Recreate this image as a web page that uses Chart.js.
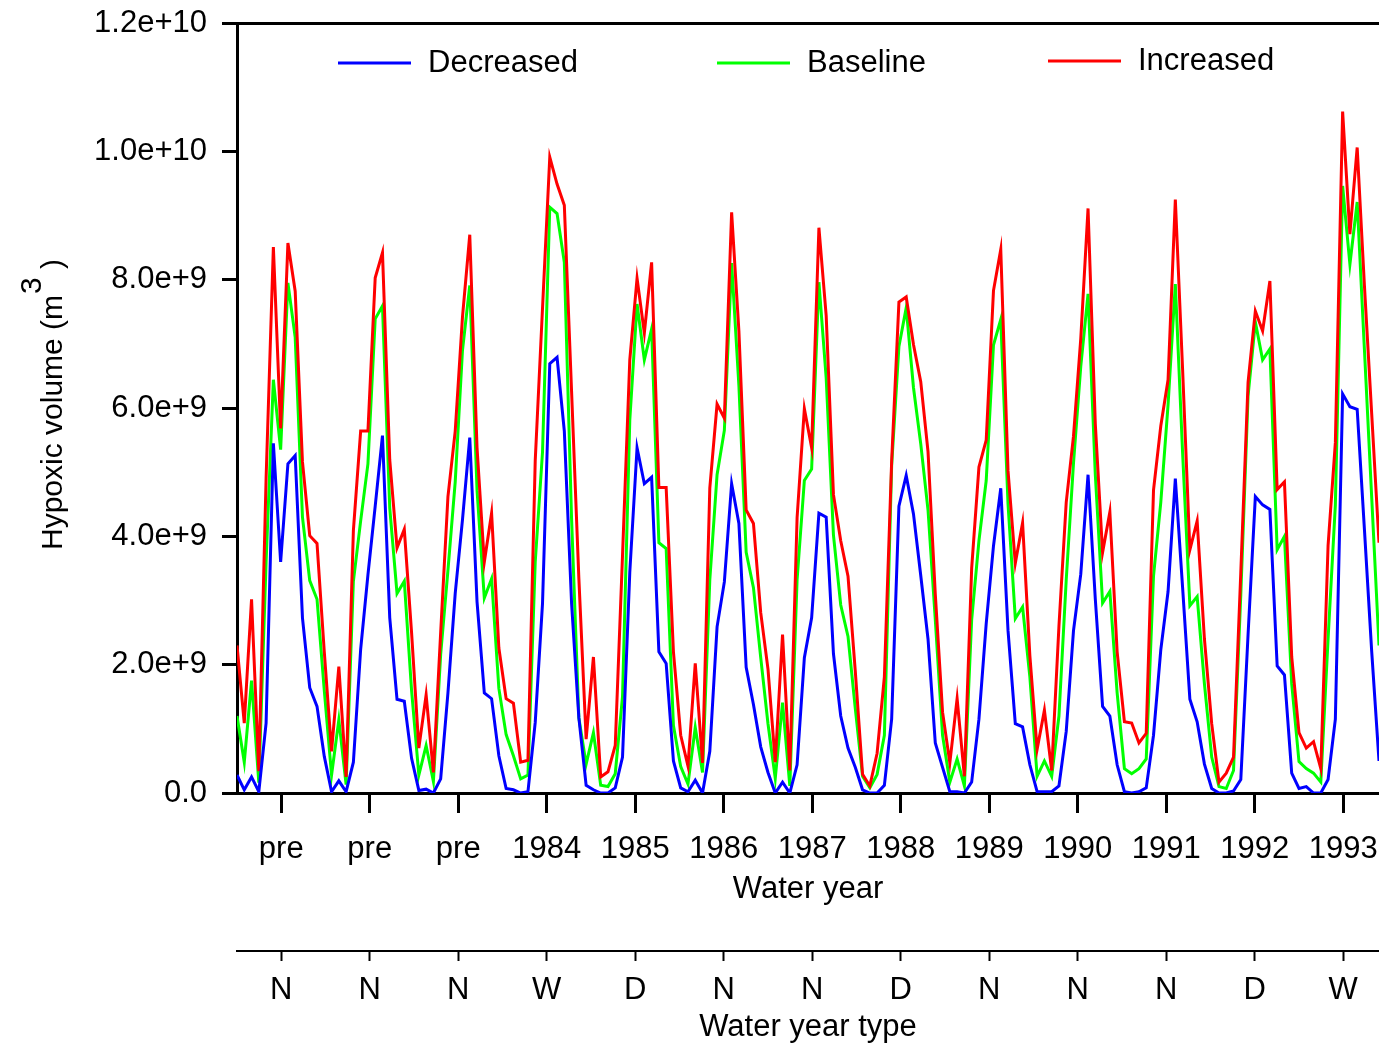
<!DOCTYPE html>
<html>
<head>
<meta charset="utf-8">
<script src="https://cdn.jsdelivr.net/npm/chart.js@4/dist/chart.umd.min.js"></script>
<style>
  html, body { margin: 0; padding: 0; background: #fff; }
  canvas { display: block; }
</style>
</head>
<body>
<canvas id="hypoxiaChart" width="1379" height="1046"></canvas>
<script>
// Hypoxic volume, in units of 1e9 m3, one value every 30 days from the start of the record
const decreased = [
  0.28, 0.05, 0.25, 0.02, 1.09, 5.45, 3.60, 5.13, 5.26, 2.73, 1.64, 1.35, 0.57, 0.02, 0.19, 0.02,
  0.48, 2.24, 3.40, 4.47, 5.57, 2.73, 1.46, 1.43, 0.54, 0.04, 0.06, 0.00, 0.22, 1.56, 3.11, 4.26,
  5.54, 2.98, 1.56, 1.47, 0.58, 0.07, 0.05, 0.00, 0.02, 1.10, 2.95, 6.69, 6.79, 5.64, 2.95, 1.17,
  0.12, 0.05, 0.00, 0.00, 0.08, 0.56, 3.44, 5.38, 4.82, 4.92, 2.20, 2.02, 0.50, 0.08, 0.02, 0.20,
  0.00, 0.65, 2.59, 3.29, 4.82, 4.20, 1.96, 1.38, 0.72, 0.32, 0.00, 0.17, 0.00, 0.44, 2.11, 2.73,
  4.36, 4.30, 2.17, 1.20, 0.70, 0.40, 0.05, 0.00, 0.00, 0.12, 1.15, 4.47, 4.95, 4.35, 3.39, 2.40,
  0.78, 0.40, 0.02, 0.02, 0.00, 0.17, 1.15, 2.64, 3.85, 4.75, 2.53, 1.08, 1.03, 0.44, 0.02, 0.02,
  0.02, 0.11, 0.96, 2.53, 3.41, 4.96, 3.02, 1.35, 1.20, 0.44, 0.02, 0.00, 0.02, 0.08, 0.90, 2.23,
  3.14, 4.90, 3.20, 1.46, 1.11, 0.45, 0.07, 0.00, 0.00, 0.03, 0.21, 2.47, 4.62, 4.49, 4.42, 1.98,
  1.84, 0.31, 0.07, 0.10, 0.00, 0.00, 0.21, 1.15, 6.22, 6.02, 5.98, 4.10, 2.20, 0.50
];
const baseline = [
  1.20, 0.48, 1.75, 0.16, 3.60, 6.44, 5.35, 7.95, 7.10, 4.30, 3.31, 3.02, 1.60, 0.28, 1.14, 0.13,
  3.30, 4.24, 5.13, 7.39, 7.59, 4.44, 3.11, 3.30, 1.60, 0.28, 0.74, 0.18, 2.16, 3.47, 4.85, 6.90,
  7.91, 4.72, 3.04, 3.34, 1.63, 0.91, 0.58, 0.22, 0.28, 3.60, 5.31, 9.13, 9.03, 8.27, 4.26, 1.17,
  0.45, 0.94, 0.12, 0.10, 0.30, 1.50, 5.81, 7.62, 6.75, 7.23, 3.90, 3.81, 1.05, 0.41, 0.14, 1.02,
  0.32, 3.32, 4.96, 5.65, 8.26, 6.35, 3.75, 3.20, 2.11, 1.08, 0.23, 1.41, 0.11, 3.32, 4.87, 5.05,
  7.96, 6.47, 4.02, 2.93, 2.44, 1.32, 0.26, 0.08, 0.29, 0.90, 5.10, 6.96, 7.56, 6.32, 5.44, 4.41,
  2.70, 0.90, 0.17, 0.53, 0.11, 2.70, 3.93, 4.87, 6.98, 7.38, 4.50, 2.72, 2.90, 1.81, 0.26, 0.50,
  0.26, 1.20, 3.32, 5.14, 6.65, 7.78, 4.96, 2.96, 3.14, 1.56, 0.38, 0.30, 0.38, 0.53, 3.38, 4.53,
  6.05, 7.93, 5.30, 2.92, 3.06, 1.70, 0.56, 0.10, 0.07, 0.35, 3.09, 6.19, 7.34, 6.75, 6.92, 3.79,
  4.00, 1.70, 0.49, 0.38, 0.31, 0.17, 2.40, 4.49, 9.46, 8.24, 9.21, 6.90, 4.60, 2.30
];
const increased = [
  2.30, 1.09, 3.02, 0.34, 4.90, 8.51, 5.68, 8.57, 7.82, 5.16, 4.01, 3.89, 2.20, 0.65, 1.97, 0.25,
  4.09, 5.64, 5.64, 8.03, 8.42, 5.19, 3.82, 4.11, 2.50, 0.70, 1.53, 0.32, 2.50, 4.62, 5.64, 7.42,
  8.70, 5.38, 3.60, 4.36, 2.26, 1.47, 1.40, 0.48, 0.51, 5.18, 7.55, 9.91, 9.49, 9.16, 6.25, 3.34,
  0.84, 2.12, 0.25, 0.33, 0.74, 3.70, 6.75, 8.02, 7.17, 8.27, 4.76, 4.76, 2.20, 0.90, 0.42, 2.02,
  0.47, 4.75, 6.06, 5.84, 9.05, 7.20, 4.41, 4.20, 2.81, 1.93, 0.48, 2.47, 0.35, 4.29, 5.99, 5.38,
  8.81, 7.44, 4.65, 3.93, 3.38, 1.90, 0.29, 0.11, 0.62, 1.81, 5.17, 7.65, 7.73, 6.99, 6.41, 5.32,
  3.10, 1.26, 0.47, 1.47, 0.26, 3.50, 5.08, 5.50, 7.83, 8.47, 5.02, 3.58, 4.21, 2.14, 0.68, 1.29,
  0.35, 2.60, 4.53, 5.56, 7.08, 9.11, 5.75, 3.75, 4.38, 2.20, 1.11, 1.09, 0.78, 0.93, 4.72, 5.72,
  6.44, 9.25, 6.60, 3.79, 4.24, 2.40, 1.08, 0.17, 0.31, 0.56, 3.44, 6.40, 7.51, 7.20, 7.98, 4.73,
  4.85, 2.12, 0.94, 0.70, 0.80, 0.38, 3.86, 5.46, 10.62, 8.71, 10.06, 7.90, 5.90, 3.90
];

const yearLabels = ['pre', 'pre', 'pre', '1984', '1985', '1986', '1987', '1988', '1989', '1990', '1991', '1992', '1993'];
const yearTypes = ['N', 'N', 'N', 'W', 'D', 'N', 'N', 'D', 'N', 'N', 'N', 'D', 'W'];
const yTickValues = [0, 2, 4, 6, 8, 10, 12];
const yTickLabels = ['0.0', '2.0e+9', '4.0e+9', '6.0e+9', '8.0e+9', '1.0e+10', '1.2e+10'];

const STEP_DAYS = 30;      // sampling interval of the series
const YEAR_DAYS = 365;
const YEAR_MID = 182.5;    // year labels sit in the middle of each water year

const FONT = 'Liberation Sans, Arial, Helvetica, sans-serif';
Chart.defaults.font.family = FONT;
Chart.defaults.font.size = 31;
Chart.defaults.color = '#000';

function toPoints(values) {
    return values.map((v, i) => ({ x: i * STEP_DAYS, y: v }));
}

function yearTicks(scale) {
    scale.ticks = yearLabels.map((_, j) => ({ value: YEAR_MID + j * YEAR_DAYS }));
}

// stop the labels from shrinking the plot area
function noPadding(scale) {
    scale.paddingTop = 0;
    scale.paddingBottom = 0;
    scale.paddingLeft = 0;
    scale.paddingRight = 0;
}

// legend sits inside the plot, drawn by hand to match the original spacing
const sideDecor = {
    id: 'sideDecor',
    afterDraw(chart) {
        const ctx = chart.ctx;
        ctx.save();
        ctx.font = '31px ' + FONT;
        ctx.fillStyle = '#000';

        const items = [
            { ds: 0, x: 338, y: 63 },
            { ds: 1, x: 717, y: 63 },
            { ds: 2, x: 1048, y: 61 }
        ];
        items.forEach(it => {
            const ds = chart.data.datasets[it.ds];
            ctx.strokeStyle = ds.borderColor;
            ctx.lineWidth = 3;
            ctx.beginPath();
            ctx.moveTo(it.x, it.y);
            ctx.lineTo(it.x + 73, it.y);
            ctx.stroke();
            ctx.textAlign = 'left';
            ctx.textBaseline = 'middle';
            ctx.fillText(ds.label, it.x + 90, it.y);
        });

        // y axis title with raised "3"
        ctx.font = '30px ' + FONT;
        ctx.translate(62, 550);
        ctx.rotate(-Math.PI / 2);
        ctx.textBaseline = 'alphabetic';
        const main = 'Hypoxic volume (m';
        const w1 = ctx.measureText(main).width;
        ctx.fillText(main, 0, 0);
        ctx.fillText('3', w1 + 1, -21);
        const w3 = ctx.measureText('3').width;
        ctx.fillText(' )', w1 + w3 + 1, 0);
        ctx.restore();
    }
};

const ctx = document.getElementById('hypoxiaChart').getContext('2d');
new Chart(ctx, {
    type: 'line',
    data: {
        datasets: [
            { label: 'Decreased', data: toPoints(decreased), borderColor: '#0000ff', order: 0 },
            { label: 'Baseline', data: toPoints(baseline), borderColor: '#00ff00', order: 2 },
            { label: 'Increased', data: toPoints(increased), borderColor: '#ff0000', order: 1 }
        ]
    },
    options: {
        responsive: false,
        animation: false,
        devicePixelRatio: 1,
        elements: {
            line: { borderWidth: 3, tension: 0, fill: false },
            point: { radius: 0 }
        },
        layout: { padding: { top: 23, left: 0, right: 0, bottom: 0 } },
        plugins: {
            legend: { display: false },
            tooltip: { enabled: false }
        },
        scales: {
            x: {
                type: 'linear',
                position: 'bottom',
                min: 0,
                max: (decreased.length - 1) * STEP_DAYS,
                afterBuildTicks: yearTicks,
                afterFit(scale) { scale.height = 158; noPadding(scale); },
                grid: { drawOnChartArea: false, tickLength: 20, tickWidth: 3, tickColor: '#000' },
                border: { color: '#000', width: 3 },
                ticks: {
                    autoSkip: false, maxRotation: 0, minRotation: 0, padding: 18,
                    callback: (v, i) => yearLabels[i]
                },
                title: { display: true, text: 'Water year', padding: { top: 0, bottom: 43 } }
            },
            x2: {
                type: 'linear',
                position: 'bottom',
                min: 0,
                max: (decreased.length - 1) * STEP_DAYS,
                afterBuildTicks: yearTicks,
                afterFit(scale) { scale.height = 95; noPadding(scale); },
                grid: { drawOnChartArea: false, tickLength: 10, tickWidth: 2, tickColor: '#000' },
                border: { color: '#000', width: 2 },
                ticks: {
                    autoSkip: false, maxRotation: 0, minRotation: 0, padding: 11,
                    callback: (v, i) => yearTypes[i]
                },
                title: { display: true, text: 'Water year type', padding: { top: 0, bottom: 0 } }
            },
            y: {
                min: 0,
                max: 12,
                afterBuildTicks(scale) { scale.ticks = yTickValues.map(v => ({ value: v })); },
                afterFit(scale) { scale.width = 237; noPadding(scale); },
                grid: {
                    color: (c) => (c.tick && c.tick.value === 12 ? '#000' : 'rgba(0,0,0,0)'),
                    lineWidth: 3,
                    tickLength: 15,
                    tickWidth: 3,
                    tickColor: '#000'
                },
                border: { color: '#000', width: 3 },
                ticks: { padding: 15, callback: (v, i) => yTickLabels[i] }
            }
        }
    },
    plugins: [sideDecor]
});
</script>
</body>
</html>
